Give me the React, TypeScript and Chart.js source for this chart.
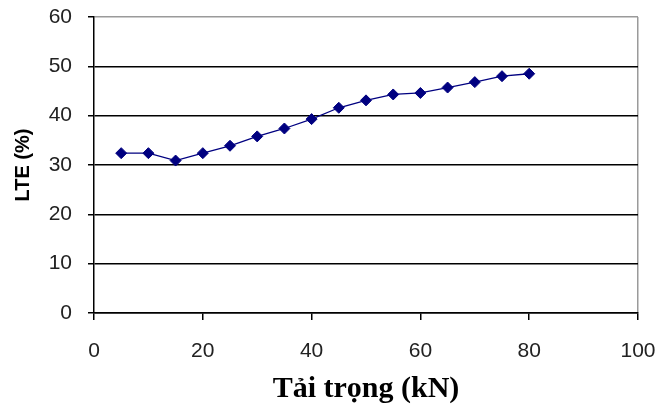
import React, { useEffect, useRef } from "react";
import { Chart, registerables } from "chart.js";

Chart.register(...registerables);

const loadKN = [5, 10, 15, 20, 25, 30, 35, 40, 45, 50, 55, 60, 65, 70, 75, 80];
const lteValues = [32.4, 32.4, 30.9, 32.4, 33.9, 35.8, 37.4, 39.3, 41.6, 43.1, 44.3, 44.6, 45.7, 46.8, 48.0, 48.5];
const xTicks = [0, 20, 40, 60, 80, 100];
const yTicks = [0, 10, 20, 30, 40, 50, 60];

export default function App() {
  const ref = useRef<HTMLCanvasElement | null>(null);
  useEffect(() => {
    if (!ref.current) return;
    const chart = new Chart(ref.current, {
      type: "line",
      data: {
        datasets: [
          {
            data: loadKN.map((x, i) => ({ x, y: lteValues[i] })),
            borderColor: "#000080",
            backgroundColor: "#000080",
            borderWidth: 1.3,
            pointStyle: "rectRot",
            pointRadius: 5.5,
            pointBorderWidth: 1,
            pointBorderColor: "#000080",
            pointBackgroundColor: "#000080",
            tension: 0,
          },
        ],
      },
      options: {
        animation: false,
        responsive: false,
        maintainAspectRatio: false,
        layout: { padding: { left: 11, top: 17, right: 22, bottom: 0 } },
        plugins: { legend: { display: false }, tooltip: { enabled: false } },
        scales: {
          x: {
            type: "linear",
            min: 0,
            max: 100,
            afterBuildTicks: (s: any) => {
              s.ticks = xTicks.map((v) => ({ value: v }));
            },
            afterFit: (s: any) => {
              s.height = 94;
              s.paddingLeft = 0;
              s.paddingRight = 0;
            },
            ticks: {
              color: "#222",
              font: { family: "Liberation Sans", size: 21 },
              padding: 19,
              maxRotation: 0,
            },
            grid: {
              drawOnChartArea: true,
              color: (c: any) => (c.tick && c.tick.value === 100 ? "#9a9a9a" : "rgba(0,0,0,0)"),
              tickColor: "#000",
              tickLength: 7,
              lineWidth: 1.5,
            },
            border: { color: "#000", width: 1.5 },
            title: {
              display: true,
              text: "Tải trọng (kN)",
              color: "#000",
              font: { family: "Liberation Serif", size: 30, weight: "bold" },
              padding: { top: 0, bottom: 0 },
            },
          },
          y: {
            type: "linear",
            min: 0,
            max: 60,
            afterBuildTicks: (s: any) => {
              s.ticks = yTicks.map((v) => ({ value: v }));
            },
            afterFit: (s: any) => {
              s.width = 83;
              s.paddingTop = 0;
              s.paddingBottom = 0;
            },
            ticks: {
              color: "#222",
              font: { family: "Liberation Sans", size: 21 },
              padding: 16,
            },
            grid: {
              color: (c: any) => (c.tick && c.tick.value === 60 ? "#9a9a9a" : "#000"),
              tickColor: "#000",
              tickLength: 6,
              lineWidth: 1.5,
            },
            border: { color: "#000", width: 1.5 },
            title: {
              display: true,
              text: "LTE (%)",
              color: "#000",
              font: { family: "Liberation Sans", size: 20, weight: "bold" },
              padding: { top: 0, bottom: 0 },
            },
          },
        },
      },
    });
    return () => chart.destroy();
  }, []);
  return (
    <div style={{ position: "fixed", left: 0, top: 0, width: 660, height: 407, background: "#fff" }}>
      <canvas ref={ref} width={660} height={407} style={{ display: "block" }} />
    </div>
  );
}
